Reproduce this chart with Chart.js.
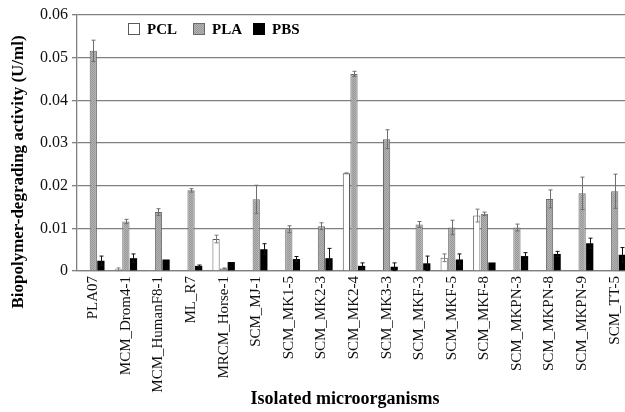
<!DOCTYPE html>
<html>
<head>
<meta charset="utf-8">
<script src="https://cdn.jsdelivr.net/npm/chart.js@4.4.1/dist/chart.umd.min.js"></script>
<style>
  html, body { margin: 0; padding: 0; background: #fff; overflow: hidden; }
  #wrap { width: 625px; height: 412px; overflow: hidden; }
  canvas { display: block; }
</style>
</head>
<body>
<div id="wrap"><canvas id="c" width="640" height="412"></canvas></div>
<script>
// Strains tested
const strains = [
  'PLA07', 'MCM_Drom4-1', 'MCM_HumanF8-1', 'ML_R7', 'MRCM_Horse-1', 'SCM_MJ-1',
  'SCM_MK1-5', 'SCM_MK2-3', 'SCM_MK2-4', 'SCM_MK3-3', 'SCM_MKF-3', 'SCM_MKF-5',
  'SCM_MKF-8', 'SCM_MKPN-3', 'SCM_MKPN-8', 'SCM_MKPN-9', 'SCM_TT-5'
];

// Mean activity (U/ml) and standard deviation per substrate
const pclActivity = [0, 0.0004, 0.0001, 0, 0.0075, 0, 0, 0, 0.0229, 0, 0, 0.0031, 0.0130, 0, 0, 0, 0];
const pclError    = [0, 0.0003, 0, 0, 0.0009, 0, 0, 0, 0.0001, 0, 0, 0.0009, 0.0015, 0, 0, 0, 0];

const plaActivity = [0.0516, 0.0116, 0.0138, 0.0189, 0.0006, 0.0168, 0.0098, 0.0105, 0.0462, 0.0309, 0.0109, 0.0102, 0.0134, 0.0102, 0.0169, 0.0182, 0.0187];
const plaError    = [0.0025, 0.0005, 0.0008, 0.0004, 0.0001, 0.0033, 0.0008, 0.0008, 0.0006, 0.0022, 0.0007, 0.0017, 0.0004, 0.0008, 0.0021, 0.0038, 0.0040];

const pbsActivity = [0.0024, 0.0030, 0.0027, 0.0012, 0.0021, 0.0051, 0.0028, 0.0030, 0.0012, 0.0010, 0.0018, 0.0027, 0.0020, 0.0035, 0.0040, 0.0065, 0.0038];
const pbsError    = [0.0011, 0.0010, 0, 0.0002, 0, 0.0013, 0.0006, 0.0023, 0.0007, 0.0009, 0.0017, 0.0013, 0, 0.0008, 0.0006, 0.0012, 0.0017];

// Y axis tick values
const yTicks = [0, 0.01, 0.02, 0.03, 0.04, 0.05, 0.06];

const SERIF = '"Liberation Serif", "Times New Roman", serif';
const GRID = '#808080';

// Fine stippled grey fill for the PLA bars
function stipple() {
  const p = document.createElement('canvas');
  p.width = 2; p.height = 2;
  const g = p.getContext('2d');
  g.fillStyle = '#b4b4b4'; g.fillRect(0, 0, 2, 2);
  g.fillStyle = '#989898'; g.fillRect(0, 0, 1, 1); g.fillRect(1, 1, 1, 1);
  return document.getElementById('c').getContext('2d').createPattern(p, 'repeat');
}
const plaFill = stipple();

// Symmetric error bars with caps, drawn over each bar
const errorBars = {
  id: 'errorBars',
  afterDatasetsDraw(chart) {
    const ctx = chart.ctx;
    const y = chart.scales.y;
    chart.data.datasets.forEach((ds, di) => {
      const meta = chart.getDatasetMeta(di);
      ctx.save();
      ctx.strokeStyle = ds.errorColor;
      ctx.lineWidth = 1;
      meta.data.forEach((bar, i) => {
        const e = ds.errors[i];
        if (!e) return;
        const v = ds.data[i];
        const x = Math.round(bar.x) + 0.5;
        const top = y.getPixelForValue(v + e);
        const bot = y.getPixelForValue(Math.max(0, v - e));
        ctx.beginPath();
        ctx.moveTo(x, top); ctx.lineTo(x, bot);
        ctx.moveTo(x - 2, top); ctx.lineTo(x + 2, top);
        ctx.moveTo(x - 2, bot); ctx.lineTo(x + 2, bot);
        ctx.stroke();
      });
      ctx.restore();
    });
  }
};

// Legend row and axis titles
const decorations = {
  id: 'decorations',
  afterDraw(chart) {
    const ctx = chart.ctx;
    ctx.save();
    // legend
    const items = [
      { x: 128, label: 'PCL', ds: 0 },
      { x: 193, label: 'PLA', ds: 1 },
      { x: 253, label: 'PBS', ds: 2 }
    ];
    ctx.font = 'bold 15px ' + SERIF;
    ctx.textBaseline = 'middle';
    ctx.textAlign = 'left';
    items.forEach(it => {
      const ds = chart.data.datasets[it.ds];
      ctx.fillStyle = ds.backgroundColor;
      ctx.fillRect(it.x, 23.5, 11, 11);
      ctx.strokeStyle = ds.borderColor;
      ctx.lineWidth = 1;
      ctx.strokeRect(it.x + 0.5, 23.5, 11, 11);
      ctx.fillStyle = '#000';
      ctx.fillText(it.label, it.x + 19, 30);
    });
    // x title
    ctx.font = 'bold 18px ' + SERIF;
    ctx.textAlign = 'center';
    ctx.fillText('Isolated microorganisms', 345, 399);
    // y title
    ctx.translate(19, 172);
    ctx.rotate(-Math.PI / 2);
    ctx.font = 'bold 17px ' + SERIF;
    ctx.fillText('Biopolymer-degrading activity (U/ml)', 0, 0);
    ctx.restore();
  }
};

new Chart(document.getElementById('c'), {
  type: 'bar',
  data: {
    labels: strains,
    datasets: [
      { label: 'PCL', data: pclActivity, errors: pclError, backgroundColor: '#ffffff', borderColor: '#5a5a5a', borderWidth: 1, errorColor: '#7a7a7a' },
      { label: 'PLA', data: plaActivity, errors: plaError, backgroundColor: plaFill, borderColor: '#6a6a6a', borderWidth: 1, errorColor: '#6e6e6e' },
      { label: 'PBS', data: pbsActivity, errors: pbsError, backgroundColor: '#000000', borderColor: '#000000', borderWidth: 0, errorColor: '#111111' }
    ]
  },
  options: {
    responsive: false,
    animation: false,
    events: [],
    layout: { padding: { top: 15, right: 9, bottom: 0, left: 0 } },
    datasets: { bar: { categoryPercentage: 0.7, barPercentage: 0.95 } },
    plugins: { legend: { display: false }, tooltip: { enabled: false } },
    scales: {
      x: {
        grid: { display: false, drawTicks: false },
        border: { display: true, color: GRID, width: 1.3 },
        ticks: {
          color: '#111',
          font: { family: SERIF, size: 15 },
          minRotation: 90, maxRotation: 90,
          autoSkip: false,
          padding: 5
        },
        afterFit(s) { s.height = 141; }
      },
      y: {
        min: 0, max: 0.06,
        afterBuildTicks(s) { s.ticks = yTicks.map(v => ({ value: v })); },
        grid: { color: GRID, lineWidth: 1.3, tickLength: 5, drawTicks: true },
        border: { display: true, color: GRID, width: 1.3 },
        ticks: {
          color: '#111',
          font: { family: SERIF, size: 16 },
          padding: 4,
          callback: v => v === 0 ? '0' : v.toFixed(2)
        },
        afterFit(s) { s.width = 77; }
      }
    }
  },
  plugins: [errorBars, decorations]
});
</script>
</body>
</html>
